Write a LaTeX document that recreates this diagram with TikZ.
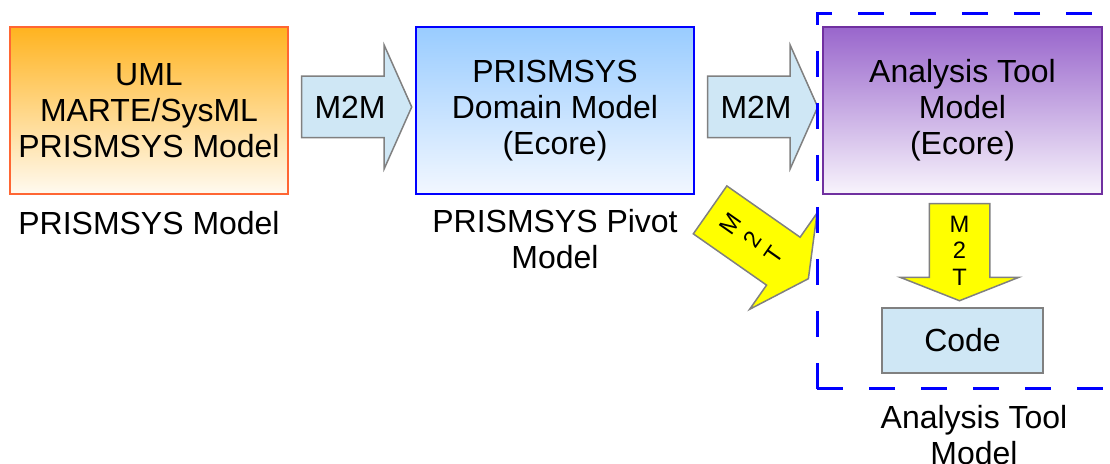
\documentclass[tikz,border=0pt]{standalone}
\usepackage{fontspec}
\setmainfont{Liberation Sans}
\usepackage{tikz}
\usetikzlibrary{shapes.arrows, positioning, calc}

\definecolor{orangetop}{HTML}{FFB31F}
\definecolor{orangebot}{HTML}{FFFAF0}
\definecolor{orangeedge}{HTML}{FF6633}
\definecolor{bluetop}{HTML}{99CCFF}
\definecolor{bluebot}{HTML}{F2F7FF}
\definecolor{blueedge}{HTML}{0000FF}
\definecolor{purpletop}{HTML}{9966CC}
\definecolor{purplebot}{HTML}{F8F4FC}
\definecolor{purpleedge}{HTML}{7030A0}
\definecolor{arrowfill}{HTML}{CFE7F5}
\definecolor{arrowedge}{HTML}{808080}
\definecolor{m2tyellow}{HTML}{FFFF00}

\begin{document}
\begin{tikzpicture}[
  every node/.style={font=\fontsize{18.2}{20.5}\selectfont},
  model/.style={rectangle, draw, line width=1.1pt, minimum width=5.56cm, minimum height=3.34cm, align=center},
  blockarrow/.style={single arrow, draw=arrowedge, line width=0.85pt, inner xsep=0pt, minimum width=0pt, anchor=tail},
  m2tlabel/.style={font=\fontsize{13.5}{15.3}\selectfont, align=center, inner sep=0pt},
  caption/.style={align=center, inner sep=0pt},
]
  \clip (0,0) rectangle (22.2,9.28);

  % models
  \node[model, draw=orangeedge, top color=orangetop, bottom color=orangebot] (umlmodel) at (2.98,7.07)
    {UML\\MARTE/SysML\\PRISMSYS Model};
  \node[caption, below=0.33cm of umlmodel] (umlcaption) {PRISMSYS Model};

  \node[model, draw=blueedge, top color=bluetop, bottom color=bluebot] (pivotmodel) at (11.10,7.07)
    {PRISMSYS\\Domain Model\\(Ecore)};
  \node[caption, below=0.28cm of pivotmodel] (pivotcaption) {PRISMSYS Pivot\\Model};

  \node[model, draw=purpleedge, top color=purpletop, bottom color=purplebot, minimum width=5.58cm] (toolmodel) at (19.25,7.07)
    {Analysis Tool\\Model\\(Ecore)};

  \node[rectangle, draw=arrowedge, fill=arrowfill, line width=0.85pt, minimum width=3.22cm, minimum height=1.30cm] (code) at (19.25,2.47) {Code};

  % transformations
  \node[blockarrow, fill=arrowfill, minimum height=2.2cm, inner ysep=0.6cm, single arrow head extend=0.62cm, single arrow tip angle=132]
    (m2mfirst) at ($(umlmodel.east)+(0.24,0.07)$) {};
  \node (m2mfirstlabel) at ($(m2mfirst.tail)!0.44!(m2mfirst.tip)$) {M2M};

  \node[blockarrow, fill=arrowfill, minimum height=2.2cm, inner ysep=0.6cm, single arrow head extend=0.62cm, single arrow tip angle=132]
    (m2msecond) at ($(pivotmodel.east)+(0.24,0.07)$) {};
  \node (m2msecondlabel) at ($(m2msecond.tail)!0.44!(m2msecond.tip)$) {M2M};

  \node[blockarrow, fill=m2tyellow, rotate=-90, minimum height=1.94cm, inner ysep=0.59cm, single arrow head extend=0.58cm, single arrow tip angle=137]
    (m2tcode) at ($(toolmodel.south)+(-0.06,-0.16)$) {};
  \node[m2tlabel] (m2tcodelabel) at ($(m2tcode.tail)!0.485!(m2tcode.tip)$) {M\\2\\T};

  \node[blockarrow, fill=m2tyellow, rotate=-35, minimum height=2.4cm, inner ysep=0.57cm, single arrow head extend=0.59cm, single arrow tip angle=125]
    (m2tpivot) at ($(pivotmodel.south east)+(0.29,-0.29)$) {};
  \node[m2tlabel, rotate=55] (m2tpivotlabel) at ($(m2tpivot.tail)!0.43!(m2tpivot.tip)$) {M\\2\\T};

  % analysis tool group
  \node[draw=blueedge, dash pattern=on 0.52cm off 0.52cm, line width=1.7pt, minimum width=6.28cm, minimum height=7.5cm, inner sep=0pt]
    (toolgroup) at (19.48,5.25) {};
  \node[caption, below=0.28cm of toolgroup] (toolcaption) {Analysis Tool\\Model};
\end{tikzpicture}
\end{document}
